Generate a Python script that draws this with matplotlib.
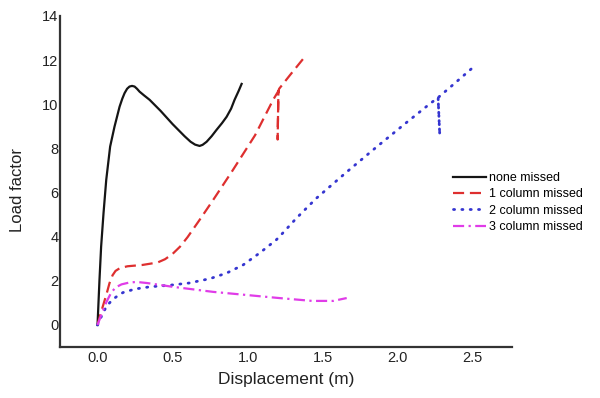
import matplotlib
matplotlib.use('Agg')
import matplotlib.pyplot as plt
import numpy as np

plt.rcParams['font.family'] = ['Liberation Sans', 'DejaVu Sans']

# displacement (m) / load factor
none_d = [0, 0.013, 0.024, 0.04, 0.058, 0.084, 0.113, 0.147, 0.165, 0.18, 0.197,
          0.213, 0.23, 0.247, 0.263, 0.28, 0.31, 0.347, 0.42, 0.5, 0.58, 0.62,
          0.65, 0.68, 0.70, 0.727, 0.76, 0.793, 0.83, 0.86, 0.89, 0.913, 0.94,
          0.96]
none_L = [0, 2.04, 3.55, 5.07, 6.57, 8.08, 8.98, 9.89, 10.25, 10.5, 10.7,
          10.8, 10.83, 10.8, 10.7, 10.57, 10.4, 10.2, 9.7, 9.1, 8.55, 8.3,
          8.17, 8.11, 8.16, 8.3, 8.55, 8.84, 9.15, 9.43, 9.8, 10.2, 10.6,
          10.92]

one_d = [0, 0.02, 0.04, 0.06, 0.08, 0.1, 0.12, 0.15, 0.2, 0.3, 0.4, 0.45, 0.5,
         0.55, 0.6, 0.68, 0.77, 0.9, 1.05, 1.17, 1.205, 1.2, 1.205, 1.21, 1.28,
         1.38]
one_L = [0, 0.5, 0.95, 1.4, 1.9, 2.25, 2.45, 2.58, 2.66, 2.72, 2.83, 2.98, 3.22,
         3.55, 3.98, 4.76, 5.66, 7.0, 8.6, 10.2, 10.6, 8.4, 10.6, 10.7, 11.3,
         12.14]

two_d = [0, 0.03, 0.06, 0.1, 0.14, 0.17, 0.25, 0.35, 0.48, 0.61, 0.75, 0.86,
         0.97, 1.08, 1.19, 1.235, 1.324, 1.458, 1.66, 1.862, 2.06, 2.218, 2.269,
         2.28, 2.269, 2.38, 2.49]
two_L = [0, 0.45, 0.85, 1.15, 1.35, 1.47, 1.63, 1.73, 1.8, 1.9, 2.1, 2.35,
         2.72, 3.26, 3.85, 4.17, 4.83, 5.74, 6.93, 8.08, 9.18, 10.04, 10.3,
         8.6, 10.3, 10.95, 11.6]

three_d = [0, 0.03, 0.06, 0.09, 0.12, 0.16, 0.21, 0.26, 0.33, 0.5, 0.77, 0.99,
           1.21, 1.43, 1.57, 1.66]
three_L = [0, 0.55, 1.05, 1.45, 1.7, 1.84, 1.92, 1.95, 1.9, 1.73, 1.5, 1.36,
           1.22, 1.09, 1.09, 1.22]

labels = ['none missed', '1 column missed', '2 column missed', '3 column missed']

fig = plt.figure(figsize=(6, 3.98), dpi=100)
ax = fig.add_axes([0.1, 0.128, 0.753, 0.832])

ax.plot(none_d, none_L, color='#151515', lw=1.6, solid_joinstyle='round',
        label=labels[0])
ax.plot(one_d, one_L, color='#de2f2f', lw=1.6, linestyle=(0, (5, 2.6)),
        label=labels[1])
ax.plot(two_d, two_L, color='#3535d0', lw=2.0, linestyle=(0, (0.4, 2.6)),
        dash_capstyle='round', label=labels[2])
ax.plot(three_d, three_L, color='#e03ce8', lw=1.6,
        linestyle=(0, (5, 2, 1, 2)), label=labels[3])

ax.set_xlim(-0.25, 2.76)
ax.set_ylim(-1, 14)
ax.set_xticks([0.0, 0.5, 1.0, 1.5, 2.0, 2.5])
ax.set_xticklabels(['0.0', '0.5', '1.0', '1.5', '2.0', '2.5'])
ax.set_yticks([0, 2, 4, 6, 8, 10, 12, 14])

for s in ['top', 'right']:
    ax.spines[s].set_visible(False)
for s in ['left', 'bottom']:
    ax.spines[s].set_color('#333333')
    ax.spines[s].set_linewidth(1.6)

ax.tick_params(axis='both', length=0, labelsize=10.5, colors='#222222')
ax.tick_params(axis='y', pad=1)
ax.tick_params(axis='x', pad=3)

ax.set_xlabel('Displacement (m)', fontsize=12.5, color='#222222', labelpad=5)
ax.set_ylabel('Load factor', fontsize=12, color='#222222')
ax.yaxis.set_label_coords(-0.077, 0.474)

fig.legend(loc='upper left', bbox_to_anchor=(0.755, 0.568), frameon=False,
           fontsize=9, handlelength=2.6, handletextpad=0.3, labelspacing=0.35,
           borderpad=0, borderaxespad=0)

fig.savefig('out.png', dpi=100)
